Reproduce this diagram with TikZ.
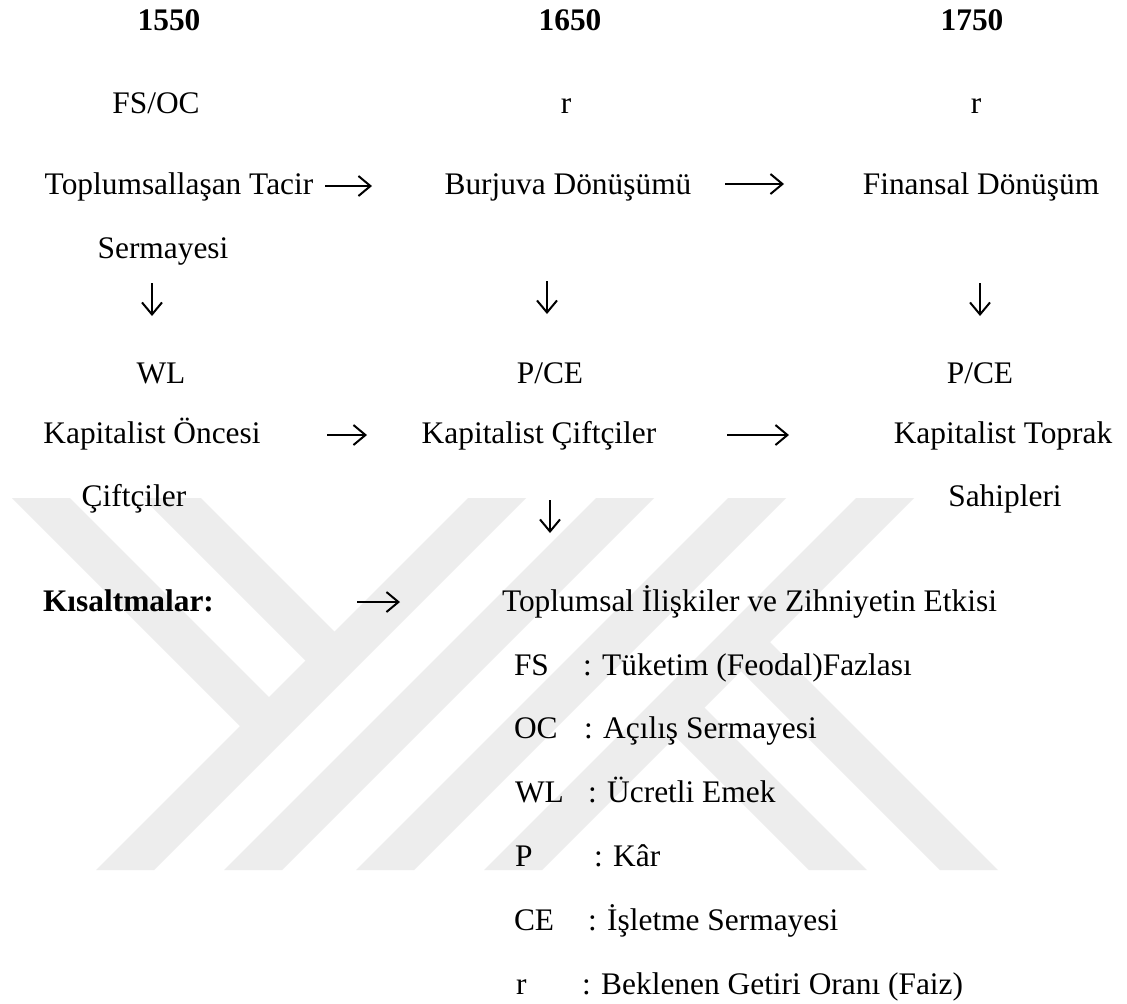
\documentclass[tikz,border=0pt]{standalone}
\usepackage{fontspec}
\setmainfont{Liberation Serif}
\usetikzlibrary{arrows.meta}

% light grey stripes of the background emblem (one half; the other half is the same turned by 180 degrees)
\newcommand\emblemhalf{%
  \fill[emblem] (468,498) -- (526,498) -- (154,870) -- (96,870) -- cycle;
  \fill[emblem] (596,498) -- (654,498) -- (282,870) -- (224,870) -- cycle;
  \fill[emblem] (12,498) -- (70,498) -- (283.5,711.5) -- (254.5,740.5) -- cycle;
  \fill[emblem] (143,498) -- (201,498) -- (349,646) -- (320,675) -- cycle;
}

\begin{document}
\begin{tikzpicture}[x=0.5pt,y=-0.5pt,
  emblem/.style={fill=black!7},
  txt/.style={inner sep=0pt, outer sep=0pt, font=\fontsize{15.7}{18}\selectfont, anchor=base},
  lft/.style={txt, anchor=base west},
  yr/.style={txt, font=\fontsize{15.7}{18}\selectfont\bfseries},
  arr/.style={line width=1pt, -{Straight Barb[length=6pt,width=10pt]}}]

\useasboundingbox (0,0) rectangle (1127,1003);
\fill[white] (0,0) rectangle (1127,1003);

% background emblem
\begin{scope}
  \clip (0,498) rectangle (1127,870);
  \emblemhalf
  \begin{scope}[rotate around={180:(505,684)}]
    \emblemhalf
  \end{scope}
\end{scope}

% years
\node[yr] (y1) at (169,30) {1550};
\node[yr] (y2) at (570,30) {1650};
\node[yr] (y3) at (972,30) {1750};

% variables
\node[txt] (v1) at (156,113) {FS/OC};
\node[txt] (v2) at (566,113) {r};
\node[txt] (v3) at (976,113) {r};

% transformations
\node[txt] (t1) at (179,194) {Toplumsallaşan Tacir};
\node[txt] (t1b) at (163,258) {Sermayesi};
\node[txt] (t2) at (568,194) {Burjuva Dönüşümü};
\node[txt] (t3) at (981,194) {Finansal Dönüşüm};

% labour / profit labels
\node[txt] (w1) at (161,383) {WL};
\node[txt] (w2) at (550,383) {P/CE};
\node[txt] (w3) at (980,383) {P/CE};

% agents
\node[txt] (k1) at (152,443) {Kapitalist Öncesi};
\node[txt] (k1b) at (134,506) {Çiftçiler};
\node[txt] (k2) at (539,443) {Kapitalist Çiftçiler};
\node[txt] (k3) at (1003,443) {Kapitalist Toprak};
\node[txt] (k3b) at (1005,506) {Sahipleri};

% legend
\node[lft, font=\fontsize{15.7}{18}\selectfont\bfseries] (ks) at (43,611) {Kısaltmalar:};
\node[lft] (etki) at (502,611) {Toplumsal İlişkiler ve Zihniyetin Etkisi};

\node[lft] (lFS) at (514,675) {FS};
\node[lft] (dFS) at (583,675) {: Tüketim (Feodal)Fazlası};
\node[lft] (lOC) at (514,738) {OC};
\node[lft] (dOC) at (584,738) {: Açılış Sermayesi};
\node[lft] (lWL) at (515,802) {WL};
\node[lft] (dWL) at (588,802) {: Ücretli Emek};
\node[lft] (lP) at (515,866) {P};
\node[lft] (dP) at (594,866) {: Kâr};
\node[lft] (lCE) at (514,930) {CE};
\node[lft] (dCE) at (588,930) {: İşletme Sermayesi};
\node[lft] (lr) at (516,994) {r};
\node[lft] (dr) at (582,994) {: Beklenen Getiri Oranı (Faiz)};

% arrow end points
\coordinate (a1s) at (325,186); \coordinate (a1e) at (372,186);
\coordinate (a2s) at (725,184); \coordinate (a2e) at (784,184);
\coordinate (d1s) at (152,283); \coordinate (d1e) at (152,316);
\coordinate (d2s) at (547,281); \coordinate (d2e) at (547,314);
\coordinate (d3s) at (980,283); \coordinate (d3e) at (980,316);
\coordinate (a3s) at (327,435); \coordinate (a3e) at (367,435);
\coordinate (a4s) at (727,435); \coordinate (a4e) at (789,435);
\coordinate (d4s) at (550,500); \coordinate (d4e) at (550,533);
\coordinate (a5s) at (357,602); \coordinate (a5e) at (400,602);

\draw[arr] (a1s) -- (a1e);
\draw[arr] (a2s) -- (a2e);
\draw[arr] (d1s) -- (d1e);
\draw[arr] (d2s) -- (d2e);
\draw[arr] (d3s) -- (d3e);
\draw[arr] (a3s) -- (a3e);
\draw[arr] (a4s) -- (a4e);
\draw[arr] (d4s) -- (d4e);
\draw[arr] (a5s) -- (a5e);

\end{tikzpicture}
\end{document}
